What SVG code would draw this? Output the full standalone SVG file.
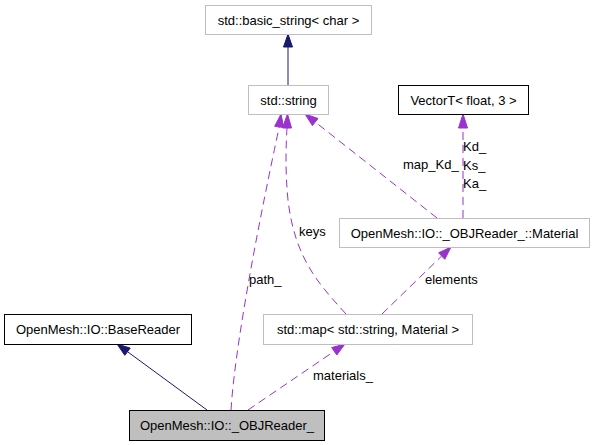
<svg xmlns="http://www.w3.org/2000/svg" width="593" height="445" viewBox="0 0 593 445">
<style>
text{font-family:"Liberation Sans",Arial,sans-serif;font-size:13px;fill:#000}
.n{fill:#fff;stroke:#bfbfbf;stroke-width:1}
.nb{fill:#fff;stroke:#000;stroke-width:1}
.cur{fill:#bfbfbf;stroke:#000;stroke-width:1}
.c{text-anchor:middle}
.inh{fill:none;stroke:#191970;stroke-width:1}
.inhh{fill:#191970;stroke:#191970}
.use{fill:none;stroke:#9a32cd;stroke-width:1;stroke-dasharray:8,5}
.useh{fill:#9a32cd;stroke:#9a32cd}
</style>
<rect width="593" height="445" fill="#fff"/>
<g id="connectors">
<path class="inh" d="M288,85 L288,47"/>
<polygon class="inhh" points="288,34 283.5,47 292.5,47"/>
<path class="inh" d="M207,410 L127.5,351.7"/>
<polygon class="inhh" points="117,344 124.8,355.3 130.2,348.1"/>
<path class="use" d="M231,410 C236,330 270,170 279.2,127"/>
<polygon class="useh" points="281,114 274.7,126.3 283.7,127.5"/>
<text x="249" y="284">path_</text>
<path class="use" d="M346,314 C320,285 295,260 288,200 C285,170 286,145 287,128"/>
<polygon class="useh" points="287.5,114 282.5,128 291.5,128"/>
<text x="299" y="236">keys</text>
<path class="use" d="M437,218 L315.2,122"/>
<polygon class="useh" points="305,114 312.4,125.6 318,118.5"/>
<text x="403" y="169">map_Kd_</text>
<path class="use" d="M463,218 L463,128"/>
<polygon class="useh" points="463,114 458.5,128 467.5,128"/>
<text x="463" y="151">Kd_</text>
<text x="463" y="170">Ks_</text>
<text x="463" y="188">Ka_</text>
<path class="use" d="M382,314 L441.7,256"/>
<polygon class="useh" points="451,247 444.8,259.3 438.6,252.8"/>
<text x="425" y="284">elements</text>
<path class="use" d="M248,410 L334.2,351.3"/>
<polygon class="useh" points="345,344 336.8,355 331.7,347.6"/>
<text x="313" y="380">materials_</text>
</g>
<g id="node_basic_string">
<rect class="n" x="205.5" y="5.5" width="166" height="29"/>
<text class="c" x="288.5" y="24.5">std::basic_string&lt; char &gt;</text>
</g>
<g id="node_string">
<rect class="n" x="248.5" y="85.5" width="80" height="29"/>
<text class="c" x="288.5" y="104.5">std::string</text>
</g>
<g id="node_vectort">
<rect class="nb" x="398.5" y="85.5" width="130" height="29"/>
<text class="c" x="463.5" y="104.5">VectorT&lt; float, 3 &gt;</text>
</g>
<g id="node_material">
<rect class="n" x="339.5" y="218.5" width="250" height="29"/>
<text class="c" x="464.5" y="237.5">OpenMesh::IO::_OBJReader_::Material</text>
</g>
<g id="node_map">
<rect class="n" x="263.5" y="314.5" width="209" height="30"/>
<text class="c" x="368" y="334">std::map&lt; std::string, Material &gt;</text>
</g>
<g id="node_basereader">
<rect class="nb" x="4.5" y="314.5" width="187" height="30"/>
<text class="c" x="98" y="334">OpenMesh::IO::BaseReader</text>
</g>
<g id="node_objreader">
<rect class="cur" x="129.5" y="410.5" width="195" height="30"/>
<text class="c" x="227" y="430">OpenMesh::IO::_OBJReader_</text>
</g>
</svg>
